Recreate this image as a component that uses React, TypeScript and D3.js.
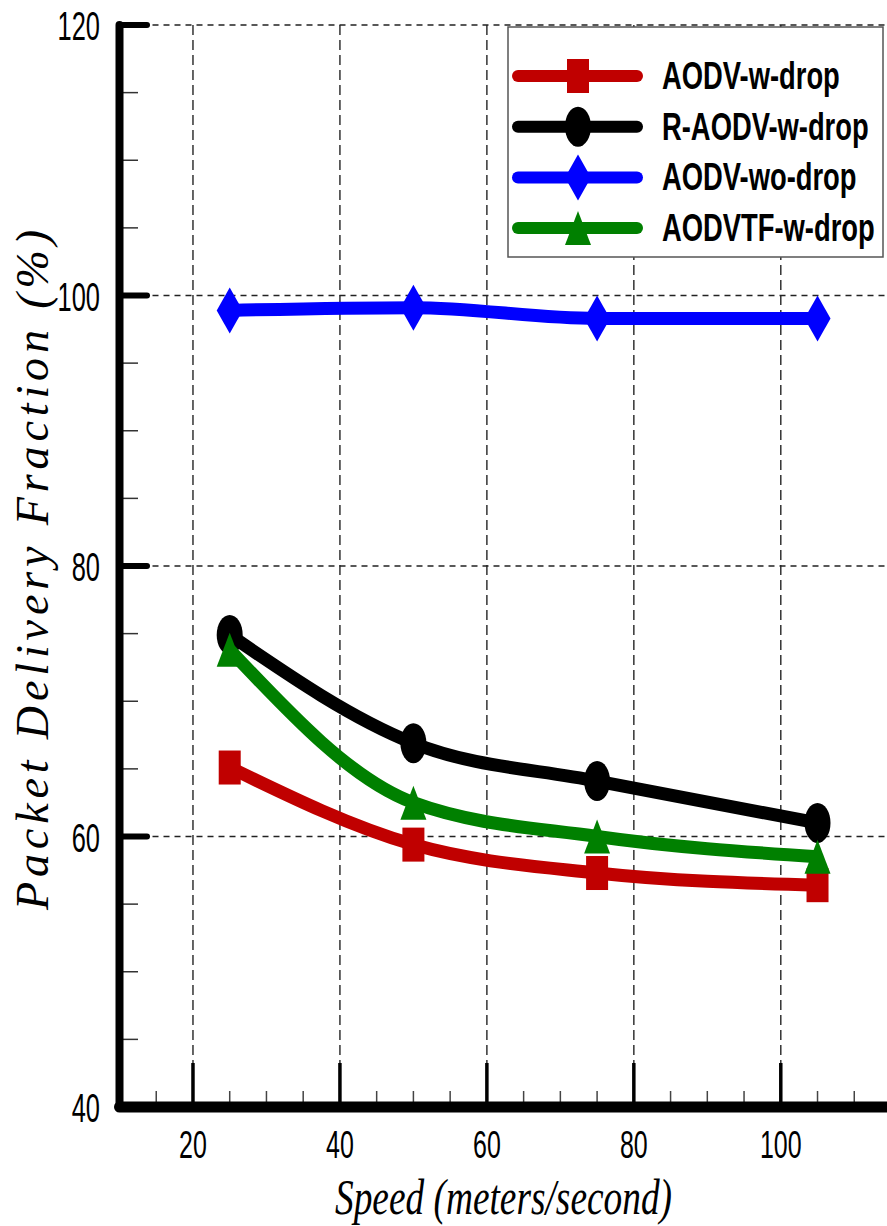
import * as d3 from "d3";

const speeds = [25, 50, 75, 105];
const aodvWDrop = [65.1, 59.4, 57.3, 56.4];
const raodvWDrop = [74.9, 66.9, 64.1, 61.0];
const aodvWoDrop = [98.9, 99.1, 98.3, 98.3];
const aodvtfWDrop = [73.8, 62.5, 60.0, 58.5];

const seriesNames = ["AODV-w-drop", "R-AODV-w-drop", "AODV-wo-drop", "AODVTF-w-drop"];
const seriesColors = ["#c00000", "#000000", "#0000ff", "#008000"];
const seriesMarkers = ["square", "circle", "diamond", "triangle"];

const xMajorTicks = [20, 40, 60, 80, 100];
const yMajorTicks = [40, 60, 80, 100, 120];

const W = 887;
const H = 1226;

const x = d3.scaleLinear().domain([10, 115]).range([119.5, 891]);
const y = d3.scaleLinear().domain([40, 120]).range([1107, 25]);

const line = d3
  .line<[number, number]>()
  .x((d) => x(d[0]))
  .y((d) => y(d[1]))
  .curve(d3.curveMonotoneX);

const sans = "'Liberation Sans', Arial, sans-serif";
const serif = "'Liberation Serif', 'Times New Roman', serif";

const Marker = ({ kind, cx, cy, color }: { kind: string; cx: number; cy: number; color: string }) => {
  if (kind === "square") return <rect x={cx - 11} y={cy - 17} width={22} height={34} fill={color} />;
  if (kind === "circle") return <ellipse cx={cx} cy={cy} rx={13} ry={20} fill={color} />;
  if (kind === "diamond")
    return <path d={`M${cx},${cy - 23}L${cx + 13},${cy}L${cx},${cy + 23}L${cx - 13},${cy}Z`} fill={color} />;
  return <path d={`M${cx},${cy - 17}L${cx + 13},${cy + 17}L${cx - 13},${cy + 17}Z`} fill={color} />;
};

export default function App() {
  const allSeries = [aodvWDrop, raodvWDrop, aodvWoDrop, aodvtfWDrop];
  const xMinor = d3.range(15, 115, 5).filter((v) => !xMajorTicks.includes(v));
  const yMinor = d3.range(45, 120, 5).filter((v) => !yMajorTicks.includes(v));
  const [x0] = x.range();
  const [y0, y1] = y.range();

  return (
    <svg width={W} height={H} style={{ position: "absolute", left: 0, top: 0, background: "#fff" }}>
      {/* grid */}
      {xMajorTicks.map((v) => (
        <line key={"gx" + v} x1={x(v)} x2={x(v)} y1={y1} y2={y0} stroke="#333" strokeWidth={1.5} strokeDasharray="10,5" />
      ))}
      {yMajorTicks.slice(1).map((v) => (
        <line key={"gy" + v} x1={x0} x2={W} y1={y(v)} y2={y(v)} stroke="#222" strokeWidth={1.5} strokeDasharray="6,5" />
      ))}

      {/* series */}
      {allSeries.map((vals, i) => (
        <g key={seriesNames[i]}>
          <path
            d={line(speeds.map((s, j) => [s, vals[j]] as [number, number])) || ""}
            fill="none"
            stroke={seriesColors[i]}
            strokeWidth={13}
            strokeLinejoin="round"
          />
          {speeds.map((s, j) => (
            <Marker key={j} kind={seriesMarkers[i]} cx={x(s)} cy={y(vals[j])} color={seriesColors[i]} />
          ))}
        </g>
      ))}

      {/* x ticks */}
      {xMinor.map((v) => (
        <line key={"xm" + v} x1={x(v)} x2={x(v)} y1={y0} y2={y0 - 16} stroke="#444" strokeWidth={1.5} />
      ))}
      {xMajorTicks.map((v) => (
        <line key={"xM" + v} x1={x(v)} x2={x(v)} y1={y0} y2={y0 - 44} stroke="#000" strokeWidth={3.5} />
      ))}
      {/* y ticks */}
      {yMinor.map((v) => (
        <line key={"ym" + v} x1={x0} x2={138} y1={y(v)} y2={y(v)} stroke="#333" strokeWidth={1.5} />
      ))}
      {yMajorTicks.map((v) => (
        <line key={"yM" + v} x1={x0} x2={147} y1={y(v)} y2={y(v)} stroke="#000" strokeWidth={6} strokeLinecap="round" />
      ))}

      {/* axes */}
      <line x1={x0} x2={x0} y1={y1} y2={y0} stroke="#000" strokeWidth={8} strokeLinecap="round" />
      <line x1={x0} x2={W + 5} y1={y0} y2={y0} stroke="#000" strokeWidth={11} strokeLinecap="round" />

      {/* tick labels */}
      {yMajorTicks.map((v) => (
        <text
          key={"yl" + v}
          transform={`translate(100,${y(v) + 15}) scale(0.62,1)`}
          textAnchor="end"
          fontFamily={sans}
          fontSize={41}
        >
          {v}
        </text>
      ))}
      {xMajorTicks.map((v) => (
        <text
          key={"xl" + v}
          transform={`translate(${x(v)},1158) scale(0.64,1)`}
          textAnchor="middle"
          fontFamily={sans}
          fontSize={39}
        >
          {v}
        </text>
      ))}

      {/* axis titles */}
      <text
        x={335}
        y={1214}
        fontFamily={serif}
        fontStyle="italic"
        fontSize={50}
        textLength={337}
        lengthAdjust="spacingAndGlyphs"
      >
        Speed (meters/second)
      </text>
      <text
        transform="translate(48,910) rotate(-90)"
        fontFamily={serif}
        fontStyle="italic"
        fontSize={46}
        textLength={680}
        lengthAdjust="spacing"
      >
        Packet Delivery Fraction (%)
      </text>

      {/* legend */}
      <rect x={508} y={27} width={375} height={230} fill="#fff" stroke="#555" strokeWidth={1.5} />
      {seriesNames.map((name, i) => {
        const cy = 76 + i * 50.7;
        return (
          <g key={"lg" + name}>
            <line x1={518} x2={637} y1={cy} y2={cy} stroke={seriesColors[i]} strokeWidth={12} strokeLinecap="round" />
            <Marker kind={seriesMarkers[i]} cx={578} cy={cy} color={seriesColors[i]} />
            <text
              transform={`translate(662,${cy + 13}) scale(0.72,1)`}
              fontFamily={sans}
              fontWeight="bold"
              fontSize={38}
            >
              {name}
            </text>
          </g>
        );
      })}
    </svg>
  );
}
